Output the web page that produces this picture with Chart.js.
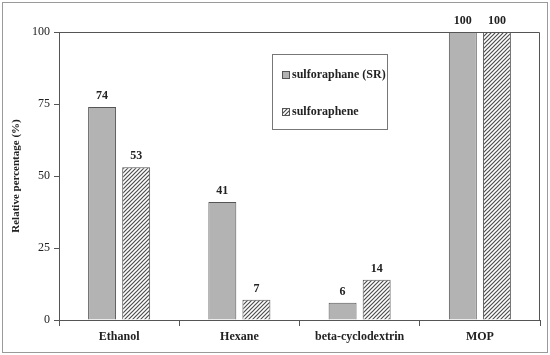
<!DOCTYPE html>
<html>
<head>
<meta charset="utf-8">
<script src="https://cdn.jsdelivr.net/npm/chart.js@4/dist/chart.umd.min.js"></script>
<style>
  html, body { margin: 0; padding: 0; background: #fff; }
  #wrap { width: 550px; height: 355px; }
</style>
</head>
<body>
<div id="wrap"><canvas id="myChart" width="550" height="355"></canvas></div>
<script>
const categories = ["Ethanol", "Hexane", "beta-cyclodextrin", "MOP"];
const sulforaphane = [74, 41, 6, 100];
const sulforaphene = [53, 7, 14, 100];
const seriesNames = ["sulforaphane (SR)", "sulforaphene"];
const yTicks = [0, 25, 50, 75, 100];

const serif = "'Liberation Serif', 'DejaVu Serif', serif";

function hatch() {
  const c = document.createElement("canvas");
  c.width = 4; c.height = 4;
  const g = c.getContext("2d");
  g.fillStyle = "#ffffff";
  g.fillRect(0, 0, 4, 4);
  g.strokeStyle = "#4d4d4d";
  g.lineWidth = 1.2;
  g.beginPath();
  g.moveTo(-1, 5); g.lineTo(5, -1);
  g.moveTo(-1, 1); g.lineTo(1, -1);
  g.moveTo(3, 5); g.lineTo(5, 3);
  g.stroke();
  return g.createPattern(c, "repeat");
}
const hatchFill = hatch();

const extras = {
  id: "extras",
  beforeDraw(chart) {
    const ctx = chart.ctx;
    ctx.save();
    ctx.strokeStyle = "#9a9a9a";
    ctx.lineWidth = 1;
    ctx.strokeRect(2.5, 2.5, 545, 350);
    ctx.restore();
  },
  afterDraw(chart) {
    const ctx = chart.ctx;
    const a = chart.chartArea;
    ctx.save();
    // frame top + right
    ctx.strokeStyle = "#555";
    ctx.lineWidth = 1;
    ctx.beginPath();
    ctx.moveTo(a.left, a.top + 0.5);
    ctx.lineTo(a.right - 0.5, a.top + 0.5);
    ctx.lineTo(a.right - 0.5, a.bottom);
    ctx.stroke();

    // value labels
    ctx.fillStyle = "#222";
    ctx.font = "bold 12px " + serif;
    ctx.textAlign = "center";
    ctx.textBaseline = "bottom";
    chart.data.datasets.forEach((ds, i) => {
      chart.getDatasetMeta(i).data.forEach((bar, j) => {
        ctx.fillText(String(ds.data[j]), bar.x, bar.y - 5);
      });
    });

    // legend box
    const lx = 272.5, ly = 54.5, lw = 115, lh = 75;
    ctx.fillStyle = "#fff";
    ctx.fillRect(lx, ly, lw, lh);
    ctx.strokeStyle = "#777";
    ctx.strokeRect(lx, ly, lw, lh);
    ctx.textAlign = "left";
    ctx.textBaseline = "middle";
    ctx.font = "bold 12px " + serif;
    const fills = [chart.data.datasets[0].backgroundColor, hatchFill];
    [75, 112].forEach((yy, k) => {
      ctx.fillStyle = fills[k];
      ctx.fillRect(282, yy - 4, 8, 8);
      ctx.strokeStyle = "#555";
      ctx.strokeRect(282.5, yy - 3.5, 7, 7);
      ctx.fillStyle = "#222";
      ctx.fillText(seriesNames[k], 292, yy);
    });
    ctx.restore();
  }
};

new Chart(document.getElementById("myChart"), {
  type: "bar",
  data: {
    labels: categories,
    datasets: [
      {
        label: seriesNames[0],
        data: sulforaphane,
        backgroundColor: "#b3b3b3",
        borderColor: "#555",
        borderWidth: 1,
        borderSkipped: "bottom",
      },
      {
        label: seriesNames[1],
        data: sulforaphene,
        backgroundColor: hatchFill,
        borderColor: "#555",
        borderWidth: 1,
        borderSkipped: "bottom",
      },
    ],
  },
  options: {
    responsive: false,
    animation: false,
    layout: { padding: { left: 10, right: 10, top: 32, bottom: 0 } },
    datasets: { bar: { categoryPercentage: 0.567, barPercentage: 0.82 } },
    plugins: {
      legend: { display: false },
      tooltip: { enabled: false },
    },
    scales: {
      x: {
        grid: {
          offset: true,
          drawOnChartArea: false,
          tickLength: 6,
          color: "#555",
        },
        border: { color: "#555" },
        ticks: {
          color: "#222",
          padding: 4,
          font: { family: serif, size: 12, weight: "bold" },
        },
        afterFit(scale) { scale.height = 35; },
      },
      y: {
        min: 0,
        max: 100,
        afterBuildTicks(scale) { scale.ticks = yTicks.map(v => ({ value: v })); },
        grid: {
          drawOnChartArea: false,
          tickLength: 5,
          color: "#555",
        },
        border: { color: "#555" },
        ticks: {
          color: "#222",
          padding: 4,
          font: { family: serif, size: 12 },
        },
        title: {
          display: true,
          text: "Relative percentage (%)",
          color: "#222",
          padding: { top: 0, bottom: 6 },
          font: { family: serif, size: 11, weight: "bold" },
        },
        afterFit(scale) { scale.width = 49; },
      },
    },
  },
  plugins: [extras],
});
</script>
</body>
</html>
